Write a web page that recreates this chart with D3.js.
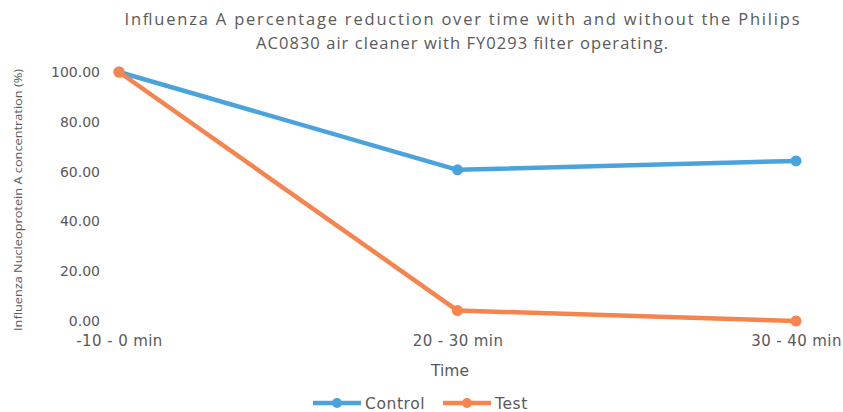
<!DOCTYPE html>
<html lang="en">
<head>
<meta charset="utf-8">
<title>Influenza A reduction</title>
<script src="https://d3js.org/d3.v7.min.js"></script>
<style>
  body { margin: 0; background: #fff; }
  .axis text { font-family: "DejaVu Sans", sans-serif; font-size: 14px; fill: #595959; }
  .x.axis text { font-size: 15px; letter-spacing: 0.4px; }
  .axis path, .axis line { display: none; }
</style>
</head>
<body>
<div id="chart"></div>
<script>
var categories = ["-10 - 0 min", "20 - 30 min", "30 - 40 min"];
var control = [100, 60.7, 64.3];
var test = [100, 4.2, 0];
var yTicks = [0, 20, 40, 60, 80, 100];

var w = 843, h = 412;
var margin = {top: 72, right: 47, bottom: 91, left: 119};

var svg = d3.select("#chart").append("svg")
    .attr("width", w).attr("height", h);

var x = d3.scalePoint().domain(categories).range([margin.left, w - margin.right]);
var y = d3.scaleLinear().domain([0, 100]).range([h - margin.bottom, margin.top]);

// title
var title = svg.append("text")
    .attr("text-anchor", "middle")
    .attr("font-family", "Open Sans, sans-serif")
    .attr("font-size", "16.5px")
    .attr("fill", "#595959");
title.append("tspan").attr("x", 462).attr("y", 25)
    .attr("textLength", 675).attr("lengthAdjust", "spacing")
    .text("Influenza A percentage reduction over time with and without the Philips");
title.append("tspan").attr("x", 462).attr("y", 49)
    .attr("textLength", 412).attr("lengthAdjust", "spacing")
    .text("AC0830 air cleaner with FY0293 filter operating.");

// axes
svg.append("g").attr("class", "y axis")
    .attr("transform", "translate(" + (margin.left - 16) + ",0)")
    .call(d3.axisLeft(y).tickValues(yTicks).tickSize(0).tickFormat(d3.format(".2f")));

svg.append("g").attr("class", "x axis")
    .attr("transform", "translate(0," + (h - margin.bottom + 11) + ")")
    .call(d3.axisBottom(x).tickSize(0));

// axis titles
svg.append("text")
    .attr("x", 450).attr("y", 376)
    .attr("text-anchor", "middle")
    .attr("font-family", "DejaVu Sans, sans-serif")
    .attr("font-size", "15.5px").attr("fill", "#595959")
    .text("Time");

svg.append("text")
    .attr("transform", "translate(22,200) rotate(-90)")
    .attr("text-anchor", "middle")
    .attr("font-family", "Open Sans, sans-serif")
    .attr("font-size", "11.5px").attr("fill", "#595959")
    .attr("textLength", 262).attr("lengthAdjust", "spacingAndGlyphs")
    .text("Influenza Nucleoprotein A concentration (%)");

// series
var series = [
  {name: "Control", values: control, color: "#4ba3dd"},
  {name: "Test", values: test, color: "#f5844e"}
];

var line = d3.line()
    .x(function(d, i) { return x(categories[i]); })
    .y(function(d) { return y(d); });

series.forEach(function(s) {
  svg.append("path")
      .attr("d", line(s.values))
      .attr("fill", "none")
      .attr("stroke", s.color)
      .attr("stroke-width", 4.5)
      .attr("stroke-linejoin", "round");
  svg.selectAll(null).data(s.values).enter().append("circle")
      .attr("cx", function(d, i) { return x(categories[i]); })
      .attr("cy", function(d) { return y(d); })
      .attr("r", 5.5)
      .attr("fill", s.color);
});

// legend
var legendX = [313, 443];
series.forEach(function(s, i) {
  var g = svg.append("g").attr("transform", "translate(" + legendX[i] + ",403)");
  g.append("line").attr("x1", 0).attr("x2", 48).attr("y1", 0).attr("y2", 0)
      .attr("stroke", s.color).attr("stroke-width", 4.5);
  g.append("circle").attr("cx", 24).attr("cy", 0).attr("r", 5).attr("fill", s.color);
  g.append("text").attr("x", 52).attr("y", 5.5)
      .attr("font-family", "DejaVu Sans, sans-serif")
      .attr("font-size", "15.5px").attr("fill", "#595959")
      .attr("letter-spacing", "0.6px")
      .text(s.name);
});
</script>
</body>
</html>
